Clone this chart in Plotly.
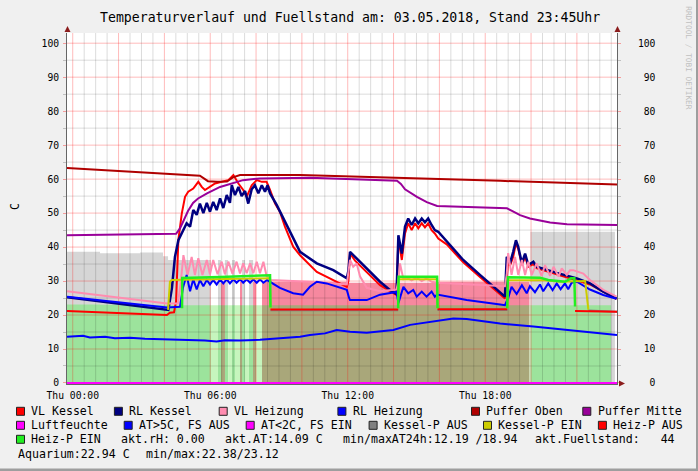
import plotly.graph_objects as go
from datetime import datetime, timedelta

# ---------------- data (hours relative to Thu 03.05.2018 00:00, value in C) ----------------
BASE = datetime(2018, 5, 3)
START_H, END_H = -0.25, 23.75

X_TICK_HOURS = [0, 6, 12, 18]
X_TICK_TEXT = ["Thu 00:00", "Thu 06:00", "Thu 12:00", "Thu 18:00"]
Y_TICKS = list(range(0, 101, 10))
Y_MINOR = list(range(5, 100, 10))

VL_KESSEL = [(-0.25, 21.2), (2.06, 20.6), (4.11, 20.0), (4.24, 20.7), (4.42, 20.8), (4.51, 24.0), (4.61, 42.1),
             (4.76, 49.9), (4.90, 54.8), (5.04, 56.3), (5.26, 57.2), (5.48, 59.2), (5.63, 57.7), (5.77, 56.8),
             (5.99, 57.8), (6.21, 58.7), (6.50, 59.2), (6.79, 59.7), (7.01, 61.2), (7.23, 58.7), (7.44, 56.8),
             (7.59, 54.8), (7.81, 58.2), (8.03, 59.7), (8.25, 59.2), (8.46, 59.2), (8.61, 56.8), (8.83, 52.8),
             (9.04, 50.4), (9.26, 46.0), (9.62, 40.1), (9.92, 37.6), (10.65, 32.7), (11.37, 30.3), (11.96, 28.3),
             (12.03, 30.0), (12.10, 38.1), (12.32, 36.0), (12.83, 32.7), (13.41, 28.8), (14.13, 25.9),
             (14.21, 42.5), (14.36, 36.2), (14.50, 44.0), (14.64, 47.0), (14.79, 45.0), (14.94, 47.0),
             (15.08, 45.5), (15.23, 47.0), (15.37, 45.8), (15.51, 47.0), (15.66, 45.0), (15.80, 44.0),
             (15.95, 42.5), (16.32, 40.8), (17.04, 35.5), (17.77, 31.2), (18.50, 27.0), (18.86, 24.9),
             (18.94, 30.0), (19.00, 36.2), (19.08, 34.5), (19.22, 37.1), (19.34, 41.1), (19.44, 39.5),
             (19.60, 34.7), (19.74, 37.1), (19.88, 34.2), (20.10, 35.0), (20.24, 33.8), (21.12, 32.0),
             (22.00, 30.3), (22.57, 29.0), (23.15, 26.9), (23.73, 24.7)]

RL_KESSEL = [(-0.25, 25.2), (2.06, 23.3), (4.11, 21.4), (4.17, 21.5), (4.33, 28.0), (4.46, 37.1), (4.61, 42.0),
             (4.83, 45.0), (4.97, 47.0), (5.12, 46.0), (5.26, 50.9), (5.41, 49.5), (5.55, 52.8), (5.70, 50.0),
             (5.85, 53.0), (5.99, 50.4), (6.13, 53.3), (6.28, 50.9), (6.43, 54.3), (6.57, 51.5), (6.72, 55.3),
             (6.86, 53.0), (6.94, 58.2), (7.08, 55.3), (7.23, 57.7), (7.37, 55.0), (7.52, 56.5), (7.66, 52.8),
             (7.81, 57.0), (7.95, 58.2), (8.10, 55.8), (8.25, 58.2), (8.39, 56.3), (8.50, 58.2), (8.61, 55.8),
             (8.90, 52.4), (9.26, 47.5), (9.62, 42.5), (9.92, 38.6), (10.65, 35.2), (11.37, 33.2), (11.96, 30.8),
             (12.03, 33.0), (12.10, 38.6), (12.39, 36.7), (12.83, 33.7), (13.41, 29.8), (13.84, 27.4),
             (14.13, 26.2), (14.21, 43.5), (14.36, 38.1), (14.50, 46.0), (14.64, 48.4), (14.79, 46.5),
             (14.94, 48.4), (15.08, 47.0), (15.23, 48.4), (15.37, 47.3), (15.51, 48.4), (15.66, 46.5),
             (15.80, 45.0), (15.95, 44.5), (16.32, 41.6), (17.04, 36.2), (17.77, 31.8), (18.50, 27.4),
             (18.86, 25.4), (18.94, 37.1), (19.08, 35.2), (19.22, 38.6), (19.34, 42.0), (19.44, 40.1),
             (19.60, 35.2), (19.74, 38.1), (19.88, 34.7), (20.10, 35.7), (20.24, 34.2), (21.12, 32.4),
             (22.00, 30.8), (22.57, 29.3), (23.15, 26.9), (23.73, 24.9)]

VL_HEIZUNG = [(-0.25, 27.0), (2.06, 25.0), (4.11, 23.4), (4.59, 23.4), (4.72, 30.0), (4.83, 37.6), (5.01, 31.8),
              (5.19, 37.1), (5.33, 31.8), (5.48, 36.7), (5.66, 31.8), (5.85, 36.2), (5.99, 32.0), (6.13, 36.2),
              (6.32, 32.0), (6.50, 35.7), (6.64, 32.0), (6.79, 35.7), (6.97, 32.2), (7.15, 35.7), (7.30, 32.2),
              (7.44, 35.2), (7.59, 32.3), (7.74, 35.2), (7.88, 32.3), (8.03, 35.7), (8.17, 32.3), (8.32, 35.7),
              (8.46, 31.5), (8.61, 30.3), (10.35, 29.8), (11.96, 29.0), (12.10, 36.2), (12.24, 34.2),
              (12.39, 35.2), (12.54, 31.3), (12.83, 28.0), (13.41, 27.0), (14.13, 27.5), (14.21, 30.0),
              (14.28, 35.2), (14.43, 30.5), (14.57, 31.0), (14.79, 30.2), (15.01, 31.0), (15.23, 30.0),
              (15.44, 30.8), (15.66, 29.8), (15.90, 29.5), (18.86, 28.5), (18.94, 32.0), (19.00, 38.2),
              (19.15, 31.8), (19.30, 37.1), (19.44, 31.8), (19.60, 36.2), (19.74, 31.8), (19.88, 35.7),
              (20.03, 31.8), (20.24, 35.2), (20.46, 31.5), (20.61, 34.7), (20.83, 31.5), (20.98, 34.2),
              (21.20, 31.3), (21.34, 33.7), (21.56, 31.8), (21.70, 33.2), (21.84, 33.2), (22.28, 32.2),
              (22.57, 30.3), (23.15, 27.4), (23.73, 25.4)]

RL_HEIZUNG = [(-0.25, 25.4), (2.06, 23.7), (4.11, 22.2), (4.68, 22.4), (4.81, 28.0), (4.97, 31.8), (5.12, 27.0),
              (5.26, 30.5), (5.41, 27.5), (5.55, 30.3), (5.70, 28.5), (5.85, 30.3), (5.99, 29.0), (6.13, 30.3),
              (6.28, 29.0), (6.43, 30.5), (6.57, 29.3), (6.72, 30.5), (6.86, 29.3), (7.01, 30.5), (7.15, 29.5),
              (7.30, 30.5), (7.44, 29.5), (7.59, 30.5), (7.74, 29.5), (7.88, 30.5), (8.03, 29.5), (8.17, 30.5),
              (8.32, 29.5), (8.48, 30.3), (8.61, 29.8), (9.04, 28.0), (9.62, 26.4), (10.05, 26.0), (10.35, 28.3),
              (10.65, 29.8), (11.08, 29.3), (11.96, 27.4), (12.06, 25.0), (12.10, 24.4), (12.83, 24.4),
              (13.41, 26.0), (14.13, 26.8), (14.21, 23.5), (14.43, 28.3), (14.64, 26.4), (14.86, 27.4),
              (15.01, 25.4), (15.23, 26.9), (15.44, 25.4), (15.66, 26.9), (15.80, 25.4), (15.90, 26.0),
              (17.19, 24.4), (18.65, 23.1), (18.86, 22.9), (19.00, 25.0), (19.15, 28.3), (19.37, 26.2),
              (19.60, 28.8), (19.81, 26.4), (19.95, 28.5), (20.17, 26.7), (20.39, 29.0), (20.53, 27.0),
              (20.75, 29.3), (20.94, 27.3), (21.12, 29.3), (21.29, 27.6), (21.48, 29.3), (21.62, 27.6),
              (21.77, 29.5), (22.00, 29.8), (22.57, 27.5), (23.15, 25.9), (23.73, 24.8)]

PUFFER_OBEN = [(-0.25, 63.3), (2.36, 62.2), (5.55, 61.0), (5.77, 60.0), (5.90, 59.4), (6.30, 59.2), (6.73, 59.3),
               (6.99, 60.5), (7.30, 61.2), (9.92, 61.2), (14.28, 60.4), (18.65, 59.5), (23.75, 58.4)]

PUFFER_MITTE = [(-0.25, 43.5), (4.51, 43.9), (4.68, 45.5), (4.86, 48.2), (5.03, 50.6), (5.25, 53.0), (5.47, 54.3),
                (5.86, 55.8), (6.43, 57.7), (7.43, 59.7), (8.17, 60.2), (10.35, 60.4), (14.15, 59.5),
                (14.32, 58.6), (14.50, 57.0), (15.02, 54.8), (15.45, 53.2), (15.90, 52.1), (18.95, 51.4),
                (19.21, 50.5), (19.52, 49.4), (19.95, 48.4), (20.83, 47.2), (21.57, 46.7), (23.75, 46.5)]

LUFTFEUCHTE = [(-0.25, 0.0), (23.75, 0.0)]

AUSSENTEMP = [(-0.25, 13.6), (0.45, 13.9), (0.75, 13.4), (1.41, 13.6), (1.84, 13.2), (2.50, 13.3), (3.15, 13.0),
              (3.81, 12.9), (4.46, 12.7), (5.12, 12.6), (5.77, 12.5), (6.28, 12.19), (6.64, 12.6), (7.30, 12.5),
              (8.17, 12.7), (9.04, 13.2), (9.92, 13.6), (10.35, 14.1), (11.01, 14.6), (11.52, 15.6),
              (12.10, 15.1), (12.83, 14.8), (13.41, 15.1), (13.99, 15.6), (14.72, 17.1), (15.44, 17.8),
              (16.17, 18.5), (16.61, 18.94), (17.19, 18.8), (17.77, 18.3), (18.65, 17.5), (20.10, 16.6),
              (21.56, 15.6), (23.59, 14.1), (23.75, 14.09)]

KESSELP_AUS = [[(8.63, 21.4), (14.20, 21.4)], [(15.92, 21.5), (18.97, 21.5)],
               [(22.50, 21.3), (23.75, 21.0)]]
KESSELP_EIN = [[(4.16, 21.5), (4.24, 29.8), (4.32, 30.3), (4.77, 30.4), (8.61, 30.8), (8.63, 22.0)],
               [(14.20, 22.0), (14.22, 30.5), (15.90, 30.5), (15.92, 22.0)],
               [(18.97, 22.0), (18.99, 30.2), (20.61, 30.2), (21.26, 29.8), (22.36, 30.0), (22.50, 21.6)]]
HEIZP_AUS = [[(8.63, 21.6), (14.20, 21.6)], [(15.92, 21.7), (18.96, 21.7)],
             [(21.92, 21.2), (23.75, 21.0)]]
HEIZP_EIN = [[(4.77, 22.0), (4.78, 30.9), (6.43, 31.2), (8.46, 31.8), (8.61, 31.7), (8.63, 22.2)],
             [(14.20, 22.0), (14.22, 31.3), (15.90, 31.3), (15.92, 22.0)],
             [(18.96, 22.0), (18.99, 31.1), (20.39, 31.0), (20.75, 30.3), (21.48, 29.8), (21.74, 30.8),
              (21.89, 30.8), (21.92, 22.5)]]

# Fuellstand / Aquarium areas: segment boundaries, state per segment, levels per segment
FILL_T = [-0.25, 1.19, 2.94, 3.94, 4.16, 6.03, 6.34, 6.47, 6.64, 6.78, 6.95, 7.08, 7.30, 7.39, 7.52, 7.69,
          7.87, 8.00, 8.26, 12.0, 16.0, 19.93, 19.97, 23.49, 23.66]
FILL_STATE = ['A', 'A', 'A', 'A', 'A', 'C', 'A', 'B', 'A', 'C', 'A', 'C', 'B', 'A', 'C', 'A', 'B', 'C', 'B',
              'B', 'B', 'C', 'A', 'G']
FUELLSTAND = [38.6, 38.2, 38.4, 37.3, 36.2, None, 36.2, 29.8, 36.2, None, 36.2, None, 29.8, 36.2, None, 36.2,
              29.8, None, 29.8, 29.5, 29.8, None, 44.5, 44.5]
AQUARIUM = [23.1, 23.0, 22.9, 22.9, 22.9, 22.9, 22.9, 22.9, 22.9, 22.9, 22.9, 22.9, 22.9, 22.9, 22.9, 22.9,
            22.9, 22.9, 22.9, 22.9, 22.9, 22.9, 22.9, None]

# ---------------- colours ----------------
C_VLK, C_RLK, C_VLH, C_RLH = '#ff0000', '#000080', '#ff8cb0', '#0000ff'
C_PO, C_PM, C_LF = '#b00000', '#990099', '#ff00ff'
C_AT_HI, C_AT_LO = '#0000ff', '#ff00ff'
C_KP_AUS, C_KP_EIN, C_HP_AUS, C_HP_EIN = '#808080', '#cccc00', '#ff0000', '#22ee22'
C_GRAY_AREA, C_PINK_AREA = '#d6d6d6', '#f6889f'
C_GREEN_AREA, C_OLIVE_AREA, C_LIGHT_AREA = '#9ce39c', '#a9a77a', '#c6f5bd'
FONT = 'DejaVu Sans Mono'


def T(h):
    return BASE + timedelta(hours=h)


def xy(points):
    return [T(h) for h, _ in points], [v for _, v in points]


def xy_segments(segs):
    xs, ys = [], []
    for seg in segs:
        for h, v in seg:
            xs.append(T(h))
            ys.append(v)
        xs.append(None)
        ys.append(None)
    return xs, ys


fig = go.Figure()


def area(states, levels, color):
    xs, ys = [], []
    for i, st in enumerate(FILL_STATE):
        xs.append(T(FILL_T[i]))
        lv = levels[i]
        ys.append(lv if (st in states and lv is not None) else 0)
    xs.append(T(FILL_T[-1]))
    ys.append(0)
    fig.add_trace(go.Scatter(x=xs, y=ys, mode='lines', line=dict(width=0, shape='hv'),
                             fill='tozeroy', fillcolor=color, hoverinfo='skip'))


area(('A', 'G'), FUELLSTAND, C_GRAY_AREA)
area(('B',), FUELLSTAND, C_PINK_AREA)
area(('A',), AQUARIUM, C_GREEN_AREA)
area(('B',), AQUARIUM, C_OLIVE_AREA)
area(('C',), AQUARIUM, C_LIGHT_AREA)

# ---------------- grid (drawn above areas, below lines) ----------------
def vgrid(hours, color):
    xs, ys = [], []
    for h in hours:
        xs += [T(h), T(h), None]
        ys += [-5, 110, None]
    fig.add_trace(go.Scatter(x=xs, y=ys, mode='lines', line=dict(color=color, width=1), hoverinfo='skip'))


def hgrid(vals, color):
    xs, ys = [], []
    for v in vals:
        xs += [T(START_H), T(END_H), None]
        ys += [v, v, None]
    fig.add_trace(go.Scatter(x=xs, y=ys, mode='lines', line=dict(color=color, width=1), hoverinfo='skip'))


MINOR_C = 'rgba(0,0,0,0.14)'
MAJOR_C = 'rgba(255,0,0,0.27)'
vgrid([i * 0.5 for i in range(48) if i % 4 != 0], MINOR_C)
hgrid(Y_MINOR, MINOR_C)
vgrid([i * 2 for i in range(12)], MAJOR_C)
hgrid(Y_TICKS[1:], MAJOR_C)

# ---------------- lines ----------------
def line(points, color, width=2):
    x, y = xy(points)
    fig.add_trace(go.Scatter(x=x, y=y, mode='lines', line=dict(color=color, width=width), hoverinfo='skip'))


def seg_line(segs, color, width=2):
    x, y = xy_segments(segs)
    fig.add_trace(go.Scatter(x=x, y=y, mode='lines', line=dict(color=color, width=width),
                             connectgaps=False, hoverinfo='skip'))


line(VL_KESSEL, C_VLK)
line(RL_KESSEL, C_RLK, 2.5)
line(VL_HEIZUNG, C_VLH)
line(RL_HEIZUNG, C_RLH)
line(PUFFER_OBEN, C_PO)
line(PUFFER_MITTE, C_PM)
line(AUSSENTEMP, C_AT_HI)
seg_line(KESSELP_AUS, C_KP_AUS)
seg_line(KESSELP_EIN, C_KP_EIN)
seg_line(HEIZP_AUS, C_HP_AUS)
seg_line(HEIZP_EIN, C_HP_EIN, 2.5)
lx, ly = xy(LUFTFEUCHTE)
fig.add_trace(go.Scatter(x=lx, y=ly, mode='lines', line=dict(color=C_LF, width=2), yaxis='y2',
                         hoverinfo='skip'))

# ---------------- layout ----------------
PL, PR, PT, PB = 67, 617, 33, 384


def px(x):
    return (x - PL) / (PR - PL)


def py(y):
    return (PB - y) / (PB - PT)


TICKFONT = dict(family=FONT, size=9.7, color='#000000')
yax_common = dict(range=[-0.3, 103], tickmode='array', tickvals=Y_TICKS, showgrid=False, zeroline=False,
                  showline=True, linecolor='#666666', linewidth=1, ticks='outside', ticklen=3,
                  tickcolor='rgba(255,0,0,0.35)', tickfont=TICKFONT,
                  minor=dict(tickmode='array', tickvals=Y_MINOR, ticks='outside', ticklen=3,
                             tickcolor='rgba(0,0,0,0.2)', showgrid=False))

fig.update_layout(
    width=698, height=471,
    margin=dict(l=PL, r=698 - PR, t=PT, b=471 - PB, pad=0, autoexpand=False),
    paper_bgcolor='#f0f0f0', plot_bgcolor='#ffffff', showlegend=False,
    font=dict(family=FONT, color='#000000'),
    xaxis=dict(type='date', range=[T(START_H), T(END_H)], tickmode='array',
               tickvals=[T(h) for h in X_TICK_HOURS], ticktext=X_TICK_TEXT, showgrid=False, zeroline=False,
               showline=True, linecolor='#666666', ticks='', tickfont=TICKFONT, layer='below traces',
               ticklabelstandoff=2),
    yaxis=dict(**yax_common, ticktext=[str(v) for v in Y_TICKS], layer='above traces', ticklabelstandoff=2),
    yaxis2=dict(**yax_common, overlaying='y', side='right', anchor='x',
                ticktext=[str(v).rjust(3, '\u00a0') for v in Y_TICKS], ticklabelstandoff=15),
)

shapes = []
annotations = []
ARROW_C = '#8b1c1c'


def tri(points, color):
    p = ' L '.join(f'{px(a):.5f},{py(b):.5f}' for a, b in points)
    shapes.append(dict(type='path', path='M ' + p + ' Z', xref='paper', yref='paper',
                       fillcolor=color, line=dict(width=0), layer='above'))


tri([(67.5, 26), (64.5, 32), (70.5, 32)], ARROW_C)
tri([(617.5, 26), (614.5, 32), (620.5, 32)], ARROW_C)
tri([(625, 383.5), (619, 380.5), (619, 386.5)], ARROW_C)

# frame shading (right / bottom)
shapes.append(dict(type='rect', xref='paper', yref='paper', x0=px(696), x1=px(699), y0=py(0), y1=py(472),
                   fillcolor='#9e9e9e', line=dict(width=0), layer='above'))
shapes.append(dict(type='rect', xref='paper', yref='paper', x0=px(-1), x1=px(699), y0=py(468.5), y1=py(472),
                   fillcolor='#9e9e9e', line=dict(width=0), layer='above'))


def text(x, y, s, size, color='#000000', xanchor='left', angle=0):
    annotations.append(dict(x=px(x), y=py(y), xref='paper', yref='paper', text=s, showarrow=False,
                            xanchor=xanchor, yanchor='middle', textangle=angle, borderpad=0,
                            font=dict(family=FONT, size=size, color=color)))


LEG = 11.6
ROWS_Y = [411.3, 425.3, 439.3, 453.7]
LEGEND = [
    [("VL Kessel", C_VLK, 30.3), ("RL Kessel", C_RLK, 128.2), ("VL Heizung", C_VLH, 233.0),
     ("RL Heizung", C_RLH, 351.7), ("Puffer Oben", C_PO, 485.3), ("Puffer Mitte", C_PM, 596.6)],
    [("Luftfeuchte", C_LF, 30.3), ("AT>5C, FS AUS", C_AT_HI, 138.0), ("AT<2C, FS EIN", C_AT_LO, 260.0),
     ("Kessel-P AUS", C_KP_AUS, 382.9), ("Kessel-P EIN", C_KP_EIN, 497.3), ("Heiz-P AUS", C_HP_AUS, 612.2)],
    [("Heiz-P EIN", C_HP_EIN, 30.3)],
]
for r, items in enumerate(LEGEND):
    yc = ROWS_Y[r]
    for label, col, tx in items:
        sx = tx - 13.8
        shapes.append(dict(type='rect', xref='paper', yref='paper', x0=px(sx), x1=px(sx + 8),
                           y0=py(yc + 4), y1=py(yc - 4), fillcolor=col, line=dict(color='#222222', width=1),
                           layer='above'))
        text(tx, yc, label, LEG)

GPRINT = [
    (120.2, ROWS_Y[2], "akt.rH: 0.00"),
    (224.0, ROWS_Y[2], "akt.AT:14.09 C"),
    (341.9, ROWS_Y[2], "min/maxAT24h:12.19 /18.94"),
    (534.3, ROWS_Y[2], "akt.Fuellstand:\u00a0\u00a0\u00a044"),
    (16.5, ROWS_Y[3], "Aquarium:22.94 C"),
    (144.7, ROWS_Y[3], "min/max:22.38/23.12"),
]
for gx, gy, s in GPRINT:
    text(gx, gy, s, LEG)

text(350, 17, "Temperaturverlauf und Fuellstand am: 03.05.2018, Stand 23:45Uhr", 13.2, xanchor='center')
text(14.2, 206.7, "C", LEG, xanchor='center', angle=-90)
text(688.3, 58.5, "RRDTOOL / TOBI OETIKER", 7.8, color='#c0c0c0', xanchor='center', angle=90)

fig.update_layout(shapes=shapes, annotations=annotations)
fig.write_html("out.html", config={'displayModeBar': False, 'staticPlot': True},
               post_script="document.body.style.margin='0';document.body.style.padding='0';"
                           "document.body.style.overflow='hidden';")
